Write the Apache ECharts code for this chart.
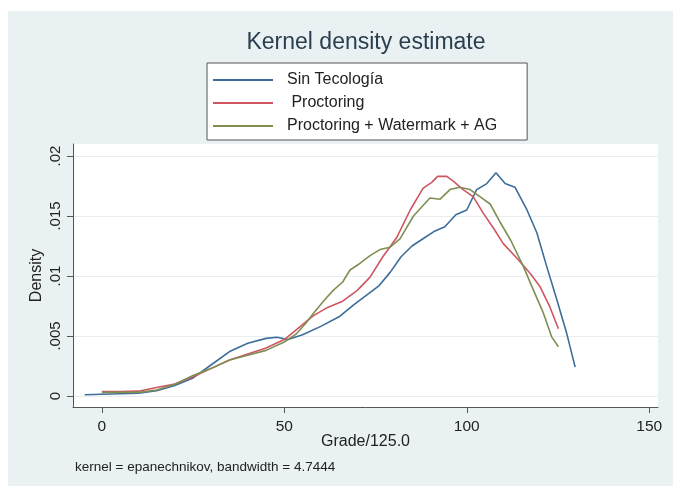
<!DOCTYPE html>
<html><head><meta charset="utf-8">
<script src="https://cdn.jsdelivr.net/npm/echarts@6/dist/echarts.min.js"></script>
<style>html,body{margin:0;padding:0;background:#fff}#c{width:673px;height:486px}</style>
</head><body><div id="c"></div>
<script>
// ---- data ----
const seriesNames = ['Sin Tecología', ' Proctoring', 'Proctoring + Watermark + AG'];
const gradeSin = [-4.7, 0, 5, 10, 15, 20, 25, 30, 35, 40, 45, 48, 51, 55, 60, 65, 69, 73, 76, 79, 82, 85, 88, 91, 94, 97, 100, 102.7, 105.5, 108, 110.5, 113.2, 116.5, 119.2, 121.9, 124.7, 127.4, 129.7];
const densSin = [0.0001, 0.00014, 0.00018, 0.00022, 0.00044, 0.00088, 0.0015, 0.0026, 0.0037, 0.0044, 0.0048, 0.0049, 0.0047, 0.0051, 0.0058, 0.0066, 0.0076, 0.0085, 0.0092, 0.0103, 0.0116, 0.0125, 0.0131, 0.0137, 0.0141, 0.0151, 0.0155, 0.0172, 0.0177, 0.0186, 0.0177, 0.0174, 0.0155, 0.0136, 0.0108, 0.0080, 0.0052, 0.0024];
const gradeProc = [0, 5, 10, 15, 20, 25, 30, 35, 40, 45, 50, 54, 58, 62, 66, 70, 73.5, 77, 80.8, 84.5, 88, 90.4, 92, 94.5, 96.3, 99, 101.8, 104.6, 107.3, 110, 113.7, 117.4, 120.1, 122.8, 125.1];
const densProc = [0.00036, 0.00036, 0.0004, 0.0007, 0.001, 0.0016, 0.0023, 0.003, 0.0035, 0.004, 0.0047, 0.0057, 0.0067, 0.0074, 0.0079, 0.0088, 0.0099, 0.0116, 0.0132, 0.0155, 0.0173, 0.0178, 0.0183, 0.0183, 0.0179, 0.0172, 0.0166, 0.0152, 0.014, 0.0127, 0.0115, 0.0102, 0.0091, 0.0074, 0.0056];
const gradePW = [0, 5, 10, 15, 20, 25, 30, 35, 40, 45, 50, 53.4, 56, 58, 61, 63.4, 66, 68, 70.5, 73.5, 76.2, 79, 81.7, 85.4, 89.9, 92.7, 95.4, 98, 100.9, 103.7, 106.4, 109.1, 112, 115.5, 118.3, 121, 123.3, 125.1];
const densPW = [0.0003, 0.0003, 0.0003, 0.0005, 0.00097, 0.0017, 0.0023, 0.003, 0.0034, 0.0038, 0.0045, 0.0052, 0.0061, 0.0069, 0.008, 0.0088, 0.0095, 0.0105, 0.011, 0.0117, 0.0122, 0.0124, 0.0131, 0.015, 0.0165, 0.0164, 0.0172, 0.0174, 0.0172, 0.0166, 0.016, 0.0145, 0.013, 0.0108, 0.0088, 0.0069, 0.0049, 0.0041];
const xTicks = [0, 50, 100, 150];
const yTicks = [0, 0.005, 0.01, 0.015, 0.02];
const yTickLabels = ['0', '.005', '.01', '.015', '.02'];
const titleText = 'Kernel density estimate';
const xName = 'Grade/125.0';
const yName = 'Density';
const noteText = 'kernel = epanechnikov, bandwidth = 4.7444';

// ---- chart ----
const colors = ['#3d6d9b', '#cf5561', '#7f8f52'];
const font = '"Liberation Sans", Arial, sans-serif';
const pair = (xs, ys) => xs.map((x, i) => [x, ys[i]]);
const chart = echarts.init(document.getElementById('c'), null, {renderer: 'canvas'});
chart.setOption({
  animation: false,
  backgroundColor: '#ffffff',
  color: colors,
  textStyle: {fontFamily: font},
  graphic: [
    {type: 'rect', z: -10, silent: true, shape: {x: 8, y: 11, width: 665, height: 475}, style: {fill: '#eaf1f3'}},
    {type: 'text', x: 366, y: 31, style: {text: titleText, align: 'center', font: '23px ' + font, fill: '#2b3e50'}},
    {type: 'text', x: 75, y: 460, style: {text: noteText, font: '13.5px ' + font, fill: '#222'}}
  ],
  legend: {
    orient: 'vertical', left: 207, top: 63,
    padding: [9, 30, 6, 6], itemGap: 7,
    itemWidth: 60, itemHeight: 2, icon: 'rect',
    backgroundColor: '#ffffff', borderColor: '#555', borderWidth: 1,
    data: seriesNames,
    textStyle: {fontSize: 16, color: '#222', lineHeight: 16, padding: [0, 0, 0, 9], fontFamily: font}
  },
  grid: {left: 73, top: 144, right: 15, bottom: 79, show: true, backgroundColor: '#ffffff', borderWidth: 0},
  xAxis: {
    type: 'value', min: -7.9, max: 152.4,
    name: xName, nameLocation: 'middle', nameGap: 27, nameMoveOverlap: false,
    nameTextStyle: {fontSize: 16, color: '#222', fontFamily: font},
    axisLine: {onZero: false, lineStyle: {color: '#555', width: 1}},
    axisTick: {customValues: xTicks, length: 6, lineStyle: {color: '#555'}},
    axisLabel: {customValues: xTicks, fontSize: 15.5, color: '#222', margin: 12, fontFamily: font},
    splitLine: {show: false}
  },
  yAxis: {
    type: 'value', min: -0.00092, max: 0.021,
    name: yName, nameLocation: 'middle', nameGap: 28, nameRotate: 90, nameMoveOverlap: false,
    nameTextStyle: {fontSize: 16, color: '#222', fontFamily: font},
    axisLine: {show: true, onZero: false, lineStyle: {color: '#555', width: 1}},
    axisTick: {show: true, customValues: yTicks, length: 6, lineStyle: {color: '#555'}},
    axisLabel: {
      customValues: yTicks, rotate: 90, fontSize: 15, color: '#222', margin: 10, fontFamily: font,
      formatter: v => { const i = yTicks.findIndex(t => Math.abs(t - v) < 1e-9); return i >= 0 ? yTickLabels[i] : ''; }
    },
    splitLine: {show: true, lineStyle: {color: '#e6eef0', width: 1}}
  },
  series: [
    {name: seriesNames[0], type: 'line', symbol: 'none', data: pair(gradeSin, densSin), lineStyle: {width: 1.6}},
    {name: seriesNames[1], type: 'line', symbol: 'none', data: pair(gradeProc, densProc), lineStyle: {width: 1.6}},
    {name: seriesNames[2], type: 'line', symbol: 'none', data: pair(gradePW, densPW), lineStyle: {width: 1.6}}
  ]
});
</script></body></html>
